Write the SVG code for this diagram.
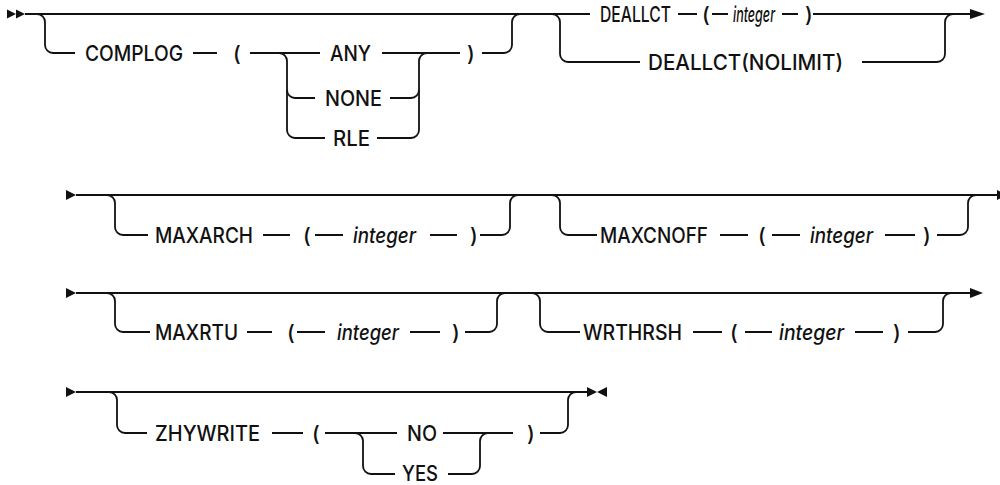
<svg xmlns="http://www.w3.org/2000/svg" width="1000" height="485" viewBox="0 0 1000 485">
<style>
.t{font-family:Inter,"Liberation Sans",Arial,sans-serif;font-size:21px;font-weight:500;fill:#111}
.i{font-style:italic}
.c{fill:none;stroke:#111;stroke-width:1.8}
.a{fill:#111}
</style>
<g id="connectors">
<!-- row 1 -->
<polygon class="a" points="7,9.5 16,14 7,18.5"/>
<polygon class="a" points="16,9.5 25,14 16,18.5"/>
<path class="c" d="M25 14 H590"/>
<path class="c" d="M37 14 A8 8 0 0 1 45 22 V45 A8 8 0 0 0 53 53 H75"/>
<path class="c" d="M193 53 H217 M250 53 H320"/>
<path class="c" d="M279 53 A8 8 0 0 1 287 61 V130 A8 8 0 0 0 295 138 H325"/>
<path class="c" d="M287 90 A8 8 0 0 0 295 98 H315"/>
<path class="c" d="M382 53 H460"/>
<path class="c" d="M390 98 H411 A8 8 0 0 0 419 90"/>
<path class="c" d="M377 138 H411 A8 8 0 0 0 419 130 V61 A8 8 0 0 1 427 53"/>
<path class="c" d="M482 53 H504 A8 8 0 0 0 512 45 V22 A8 8 0 0 1 520 14"/>
<path class="c" d="M552 14 A8 8 0 0 1 560 22 V54 A8 8 0 0 0 568 62 H640"/>
<path class="c" d="M678 14 H697 M712 14 H728 M782 14 H798 M813 14 H971"/>
<polygon class="a" points="970,9 985,14 970,19"/>
<path class="c" d="M862 62 H937 A8 8 0 0 0 945 54 V22 A8 8 0 0 1 953 14"/>
<!-- row 2 -->
<polygon class="a" points="66,190 76,195 66,200"/>
<path class="c" d="M76 195 H998"/>
<polygon class="a" points="997,190 1007,195 997,200"/>
<path class="c" d="M107 195 A8 8 0 0 1 115 203 V227 A8 8 0 0 0 123 235 H148"/>
<path class="c" d="M263 235 H290 M315 235 H343 M430 235 H457"/>
<path class="c" d="M480 235 H502 A8 8 0 0 0 510 227 V203 A8 8 0 0 1 518 195"/>
<path class="c" d="M552 195 A8 8 0 0 1 560 203 V227 A8 8 0 0 0 568 235 H597"/>
<path class="c" d="M720 235 H748 M772 235 H800 M885 235 H915"/>
<path class="c" d="M937 235 H960 A8 8 0 0 0 968 227 V203 A8 8 0 0 1 976 195"/>
<!-- row 3 -->
<polygon class="a" points="66,288 76,293 66,298"/>
<path class="c" d="M76 293 H971"/>
<polygon class="a" points="970,288 983,293 970,298"/>
<path class="c" d="M107 293 A8 8 0 0 1 115 301 V324 A8 8 0 0 0 123 332 H150"/>
<path class="c" d="M247 332 H272 M297 332 H325 M410 332 H440"/>
<path class="c" d="M465 332 H489 A8 8 0 0 0 497 324 V301 A8 8 0 0 1 505 293"/>
<path class="c" d="M532 293 A8 8 0 0 1 540 301 V324 A8 8 0 0 0 548 332 H580"/>
<path class="c" d="M693 332 H722 M745 332 H772 M855 332 H883"/>
<path class="c" d="M908 332 H935 A8 8 0 0 0 943 324 V301 A8 8 0 0 1 951 293"/>
<!-- row 4 -->
<polygon class="a" points="66,387 76,392 66,397"/>
<path class="c" d="M76 392 H588"/>
<polygon class="a" points="587,387 597,392 587,397"/>
<polygon class="a" points="607,387 597,392 607,397"/>
<path class="c" d="M109 392 A8 8 0 0 1 117 400 V425 A8 8 0 0 0 125 433 H147"/>
<path class="c" d="M272 433 H303 M325 433 H397 M443 433 H513"/>
<path class="c" d="M540 433 H560 A8 8 0 0 0 568 425 V400 A8 8 0 0 1 576 392"/>
<path class="c" d="M355 433 A8 8 0 0 1 363 441 V466 A8 8 0 0 0 371 474 H395"/>
<path class="c" d="M448 474 H472 A8 8 0 0 0 480 466 V441 A8 8 0 0 1 488 433"/>
</g>
<g id="n-complog"><text class="t" x="85" y="61" textLength="98" lengthAdjust="spacingAndGlyphs">COMPLOG</text><text class="t" x="233" y="61">(</text></g>
<g id="n-any"><text class="t" x="330" y="61" textLength="41" lengthAdjust="spacingAndGlyphs">ANY</text></g>
<g id="n-none"><text class="t" x="325" y="106" textLength="57" lengthAdjust="spacingAndGlyphs">NONE</text></g>
<g id="n-rle"><text class="t" x="333" y="146" textLength="37" lengthAdjust="spacingAndGlyphs">RLE</text></g>
<g id="n-complog-close"><text class="t" x="467" y="61">)</text></g>
<g id="n-deallct"><text class="t" x="600" y="22" textLength="71" lengthAdjust="spacingAndGlyphs">DEALLCT</text><text class="t" x="702" y="22">(</text><text class="t i" x="733" y="22" textLength="42" lengthAdjust="spacingAndGlyphs">integer</text><text class="t" x="805" y="22">)</text></g>
<g id="n-deallct-nolimit"><text class="t" x="648" y="70" textLength="195" lengthAdjust="spacingAndGlyphs">DEALLCT(NOLIMIT)</text></g>
<g id="n-maxarch"><text class="t" x="155" y="243" textLength="98" lengthAdjust="spacingAndGlyphs">MAXARCH</text><text class="t" x="303" y="243">(</text><text class="t i" x="353" y="243" textLength="63" lengthAdjust="spacingAndGlyphs">integer</text><text class="t" x="470" y="243">)</text></g>
<g id="n-maxcnoff"><text class="t" x="600" y="243" textLength="108" lengthAdjust="spacingAndGlyphs">MAXCNOFF</text><text class="t" x="758" y="243">(</text><text class="t i" x="810" y="243" textLength="63" lengthAdjust="spacingAndGlyphs">integer</text><text class="t" x="923" y="243">)</text></g>
<g id="n-maxrtu"><text class="t" x="155" y="340" textLength="83" lengthAdjust="spacingAndGlyphs">MAXRTU</text><text class="t" x="287" y="340">(</text><text class="t i" x="337" y="340" textLength="62" lengthAdjust="spacingAndGlyphs">integer</text><text class="t" x="452" y="340">)</text></g>
<g id="n-wrthrsh"><text class="t" x="583" y="340" textLength="99" lengthAdjust="spacingAndGlyphs">WRTHRSH</text><text class="t" x="730" y="340">(</text><text class="t i" x="779" y="340" textLength="65" lengthAdjust="spacingAndGlyphs">integer</text><text class="t" x="893" y="340">)</text></g>
<g id="n-zhywrite"><text class="t" x="155" y="441" textLength="105" lengthAdjust="spacingAndGlyphs">ZHYWRITE</text><text class="t" x="312" y="441">(</text></g>
<g id="n-no"><text class="t" x="407" y="441" textLength="30" lengthAdjust="spacingAndGlyphs">NO</text></g>
<g id="n-yes"><text class="t" x="402" y="481" textLength="36" lengthAdjust="spacingAndGlyphs">YES</text></g>
<g id="n-zhywrite-close"><text class="t" x="527" y="441">)</text></g>
</svg>
